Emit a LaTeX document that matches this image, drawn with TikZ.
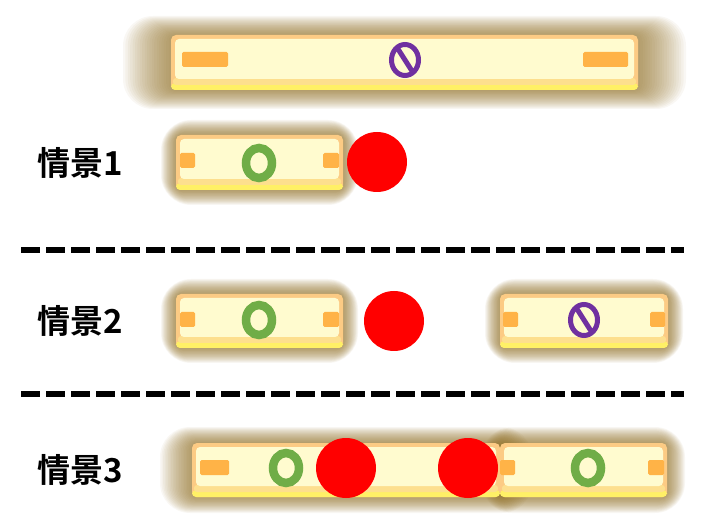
\documentclass[tikz,border=0pt]{standalone}
\usepackage{fontspec}
\newfontfamily\cjkbold{Noto Sans CJK SC Bold}
\definecolor{glowc}{HTML}{8C6A1E}
\definecolor{rimc}{HTML}{FCCB84}
\definecolor{yelc}{HTML}{FFF066}
\definecolor{bandc}{HTML}{FDDF8E}
\definecolor{creamc}{HTML}{FFFBCF}
\definecolor{tabc}{HTML}{FFB347}
\definecolor{purp}{HTML}{7030A0}
\definecolor{grn}{HTML}{70AD47}
\definecolor{redc}{HTML}{FF0000}
\newcommand\myglow[6]{%
  \foreach \i in {1,...,20}{%
    \pgfmathsetmacro\rr{6+1.2*\i}%
    \fill[glowc,opacity=0.05,rounded corners=\rr pt] ({#1-\i*#5},{#2-\i*#6}) rectangle ({#3+\i*#5},{#4+\i*#6});}%
}
\newcommand\mybody[4]{%
  \fill[rimc,rounded corners=5pt] (#1,#2) rectangle (#3,#4);
  \fill[yelc,rounded corners=4pt] (#1,{#4-7}) rectangle (#3,#4);
  \fill[bandc,rounded corners=3pt] ({#1+2},{#4-12}) rectangle ({#3-2},{#4-5});
  \fill[creamc,rounded corners=4pt] ({#1+4},{#2+4}) rectangle ({#3-4},{#4-11});
}
\tikzset{
  tab/.style={fill=tabc,rounded corners=1.5pt},
  ring/.style={draw=grn,line width=8.5pt},
  nosign/.style={draw=purp,line width=5pt},
  ball/.style={fill=redc},
  lbl/.style={font=\cjkbold\fontsize{33}{33}\selectfont,inner sep=0pt},
  sep/.style={line width=5.5pt,dash pattern=on 19pt off 6pt}
}
\newcommand\myring[2]{\draw[ring] (#1,#2) ellipse [x radius=13pt, y radius=15pt];}
\newcommand\mynosign[2]{%
  \draw[nosign] (#1,#2) ellipse [x radius=13.5pt, y radius=15.5pt];
  \draw[nosign] ({#1-7},{#2-11}) -- ({#1+7},{#2+11});}
\begin{document}
\begin{tikzpicture}[x=1pt,y=-1pt]
\useasboundingbox (0,0) rectangle (704,526);
% top bar
\myglow{171}{35}{638}{90}{2.4}{0.95}
\mybody{171}{35}{638}{90}
\fill[tab] (182,52) rectangle (228,67);
\fill[tab] (583,52) rectangle (628,67);
\mynosign{405}{60}
% scenario 1
\node[lbl] (l1) at (80,163) {情景1};
\myglow{176}{135}{343}{190}{0.75}{0.75}
\mybody{176}{135}{343}{190}
\fill[tab] (180,153) rectangle (195,168);
\fill[tab] (323,153) rectangle (339,168);
\myring{259}{163}
\fill[ball] (377,162) circle (30pt);
% separator 1
\draw[sep] (21,250) -- (684,250);
% scenario 2
\node[lbl] (l2) at (80,321) {情景2};
\myglow{176}{294}{343}{348}{0.75}{0.75}
\myglow{500}{294}{668}{348}{0.75}{0.75}
\mybody{176}{294}{343}{348}
\mybody{500}{294}{668}{348}
\fill[tab] (180,312) rectangle (195,327);
\fill[tab] (323,312) rectangle (339,327);
\fill[tab] (503,312) rectangle (518,327);
\fill[tab] (650,312) rectangle (665,327);
\myring{259}{320}
\mynosign{584}{320}
\fill[ball] (394,321) circle (30pt);
% separator 2
\draw[sep] (21,394) -- (684,394);
% scenario 3
\node[lbl] (l3) at (80,470) {情景3};
\myglow{192}{443}{500}{497}{1.6}{0.8}
\myglow{500}{443}{667}{497}{0.9}{0.8}
\mybody{192}{443}{500}{497}
\mybody{500}{443}{667}{497}
\fill[tab] (200,460) rectangle (229,475);
\fill[tab] (500,460) rectangle (515,475);
\fill[tab] (648,460) rectangle (664,475);
\myring{286}{468}
\myring{588}{468}
\fill[ball] (346,468) circle (30pt);
\fill[ball] (468,468) circle (30pt);
\end{tikzpicture}
\end{document}
